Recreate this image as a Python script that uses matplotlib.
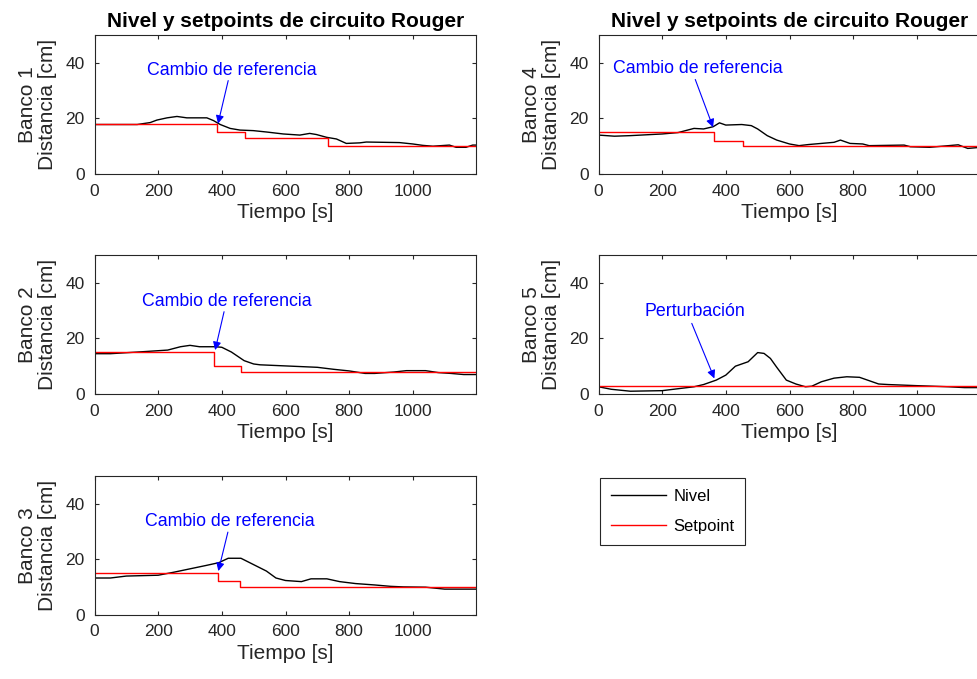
import numpy as np
import matplotlib
matplotlib.use("Agg")
import matplotlib.pyplot as plt

plt.rcParams['font.family'] = ['Liberation Sans', 'DejaVu Sans']

# Banco 1
t1 = [0, 134, 175, 196, 228, 259, 290, 353, 374, 395, 426, 457, 499, 541, 593, 645, 676, 697, 729,
      760, 791, 833, 854, 958, 1000, 1031, 1063, 1115, 1136, 1167, 1188, 1200]
n1 = [17.8, 17.8, 18.5, 19.4, 20.2, 20.7, 20.2, 20.2, 19.2, 17.8, 16.4, 15.8, 15.6, 15.1, 14.4, 14.0,
      14.6, 14.2, 13.2, 12.6, 11.0, 11.2, 11.5, 11.3, 10.8, 10.3, 10.0, 10.4, 9.6, 9.6, 10.4, 10.4]
sp1_t = [0, 385, 473, 735, 1200]
sp1_v = [18, 15, 13, 10, 10]

# Banco 2
t2 = [0, 50, 150, 230, 270, 300, 330, 380, 400, 430, 470, 500, 520, 600, 700, 750, 800, 850, 880,
      940, 980, 1040, 1080, 1120, 1160, 1200]
n2 = [14.5, 14.5, 15.2, 15.8, 17.0, 17.5, 17.0, 17.0, 16.8, 15.1, 12.0, 10.8, 10.5, 10.1, 9.6, 8.9,
      8.3, 7.4, 7.4, 7.9, 8.4, 8.4, 7.7, 7.4, 7.0, 7.0]
sp2_t = [0, 374, 459, 1200]
sp2_v = [15, 10, 8, 8]

# Banco 3
t3 = [0, 50, 100, 200, 250, 300, 350, 390, 420, 460, 500, 540, 570, 600, 650, 680, 730, 770, 820,
      880, 930, 970, 1040, 1100, 1200]
n3 = [13.2, 13.2, 13.9, 14.2, 15.3, 16.5, 17.7, 18.7, 20.3, 20.3, 18.0, 15.7, 13.2, 12.3, 11.9, 12.9,
      12.9, 11.9, 11.2, 10.7, 10.2, 10.0, 9.9, 9.2, 9.2]
sp3_t = [0, 389, 457, 1200]
sp3_v = [15, 12, 10, 10]

# Banco 4
t4 = [0, 50, 100, 200, 250, 300, 330, 360, 380, 400, 450, 480, 500, 530, 560, 600, 630, 660, 700,
      740, 760, 790, 830, 850, 960, 980, 1040, 1080, 1130, 1160, 1200]
n4 = [14.0, 13.6, 13.8, 14.4, 14.9, 16.4, 16.2, 17.0, 18.4, 17.6, 17.8, 17.4, 16.2, 13.8, 12.2, 10.8,
      10.2, 10.6, 11.0, 11.4, 12.2, 11.0, 10.8, 10.2, 10.4, 9.8, 9.6, 10.0, 10.5, 9.2, 9.6]
sp4_t = [0, 364, 454, 1200]
sp4_v = [15, 12, 10, 10]

# Banco 5
t5 = [0, 40, 100, 200, 250, 300, 330, 370, 400, 430, 470, 500, 520, 540, 560, 590, 620, 650, 670,
      700, 740, 780, 820, 850, 880, 910, 1000, 1100, 1150, 1200]
n5 = [2.6, 1.7, 1.0, 1.2, 1.9, 2.6, 3.4, 5.0, 6.8, 10.0, 11.6, 14.9, 14.6, 12.8, 9.6, 5.0, 3.6, 2.6,
      2.8, 4.4, 5.7, 6.2, 6.0, 4.8, 3.6, 3.4, 3.0, 2.6, 2.3, 2.3]
sp5_t = [0, 1200]
sp5_v = [3, 3]

bancos = ["Banco 1", "Banco 2", "Banco 3", "Banco 4", "Banco 5"]
series = [(t1, n1, sp1_t, sp1_v), (t2, n2, sp2_t, sp2_v), (t3, n3, sp3_t, sp3_v),
          (t4, n4, sp4_t, sp4_v), (t5, n5, sp5_t, sp5_v)]
# annotation: text, text position (x, y), arrow tail (x, y), arrow head (x, y)
notas = [("Cambio de referencia", (432, 37.2), (420, 33.6), (388, 18.1)),
         ("Cambio de referencia", (416, 33.2), (407, 29.6), (379, 15.8)),
         ("Cambio de referencia", (426, 33.4), (419, 29.7), (389, 15.7)),
         ("Cambio de referencia", (313, 37.8), (304, 34.0), (360, 16.8)),
         ("Perturbación", (304, 29.6), (293, 25.4), (364, 5.6))]

W, H = 977, 679
fig = plt.figure(figsize=(W / 100, H / 100), dpi=100)

lefts = [94.5, 94.5, 94.5, 598.5, 598.5]
bottoms = [174, 394, 614.7, 174, 394]
aw, ah = 382, 139

gray = (0.15, 0.15, 0.15)
lineas = None
for i in range(5):
    ax = fig.add_axes([lefts[i] / W, 1 - bottoms[i] / H, aw / W, ah / H])
    t, n, st, sv = series[i]
    l1, = ax.plot(t, n, color='black', lw=1.0, label='Nivel')
    l2, = ax.step(st, sv, where='post', color='red', lw=1.0, label='Setpoint')
    lineas = [l1, l2]
    ax.set_xlim(0, 1200)
    ax.set_ylim(0, 50)
    ax.set_xticks([0, 200, 400, 600, 800, 1000])
    ax.set_yticks([0, 20, 40])
    ax.tick_params(direction='in', top=True, right=True, length=3, width=0.8,
                   labelsize=12.5, colors=gray, pad=7)
    for s in ax.spines.values():
        s.set_color(gray)
        s.set_linewidth(0.8)
    ax.set_xlabel("Tiempo [s]", fontsize=15, color=gray, labelpad=3)
    ax.set_ylabel(bancos[i] + "\nDistancia [cm]", fontsize=15, color=gray, labelpad=6,
                  linespacing=1.1)
    if i in (0, 3):
        ax.set_title("Nivel y setpoints de circuito Rouger", fontsize=15, fontweight='bold',
                     pad=6)
    txt, tp, tail, head = notas[i]
    ax.annotate("", xy=head, xytext=tail,
                arrowprops=dict(arrowstyle='-|>', color='blue', lw=0.8, mutation_scale=12,
                                shrinkA=0, shrinkB=0))
    ax.text(tp[0], tp[1], txt, color='blue', fontsize=12.8, ha='center', va='center')

leg = fig.legend(lineas, ['Nivel', 'Setpoint'], loc='upper left',
                 bbox_to_anchor=(600 / W, 1 - 478 / H), fontsize=12,
                 handlelength=3.3, handletextpad=0.45, labelspacing=0.9,
                 borderpad=0.65, borderaxespad=0, fancybox=False, framealpha=1)
leg.get_frame().set_edgecolor(gray)
leg.get_frame().set_linewidth(0.8)

fig.savefig("out.png", dpi=100)
